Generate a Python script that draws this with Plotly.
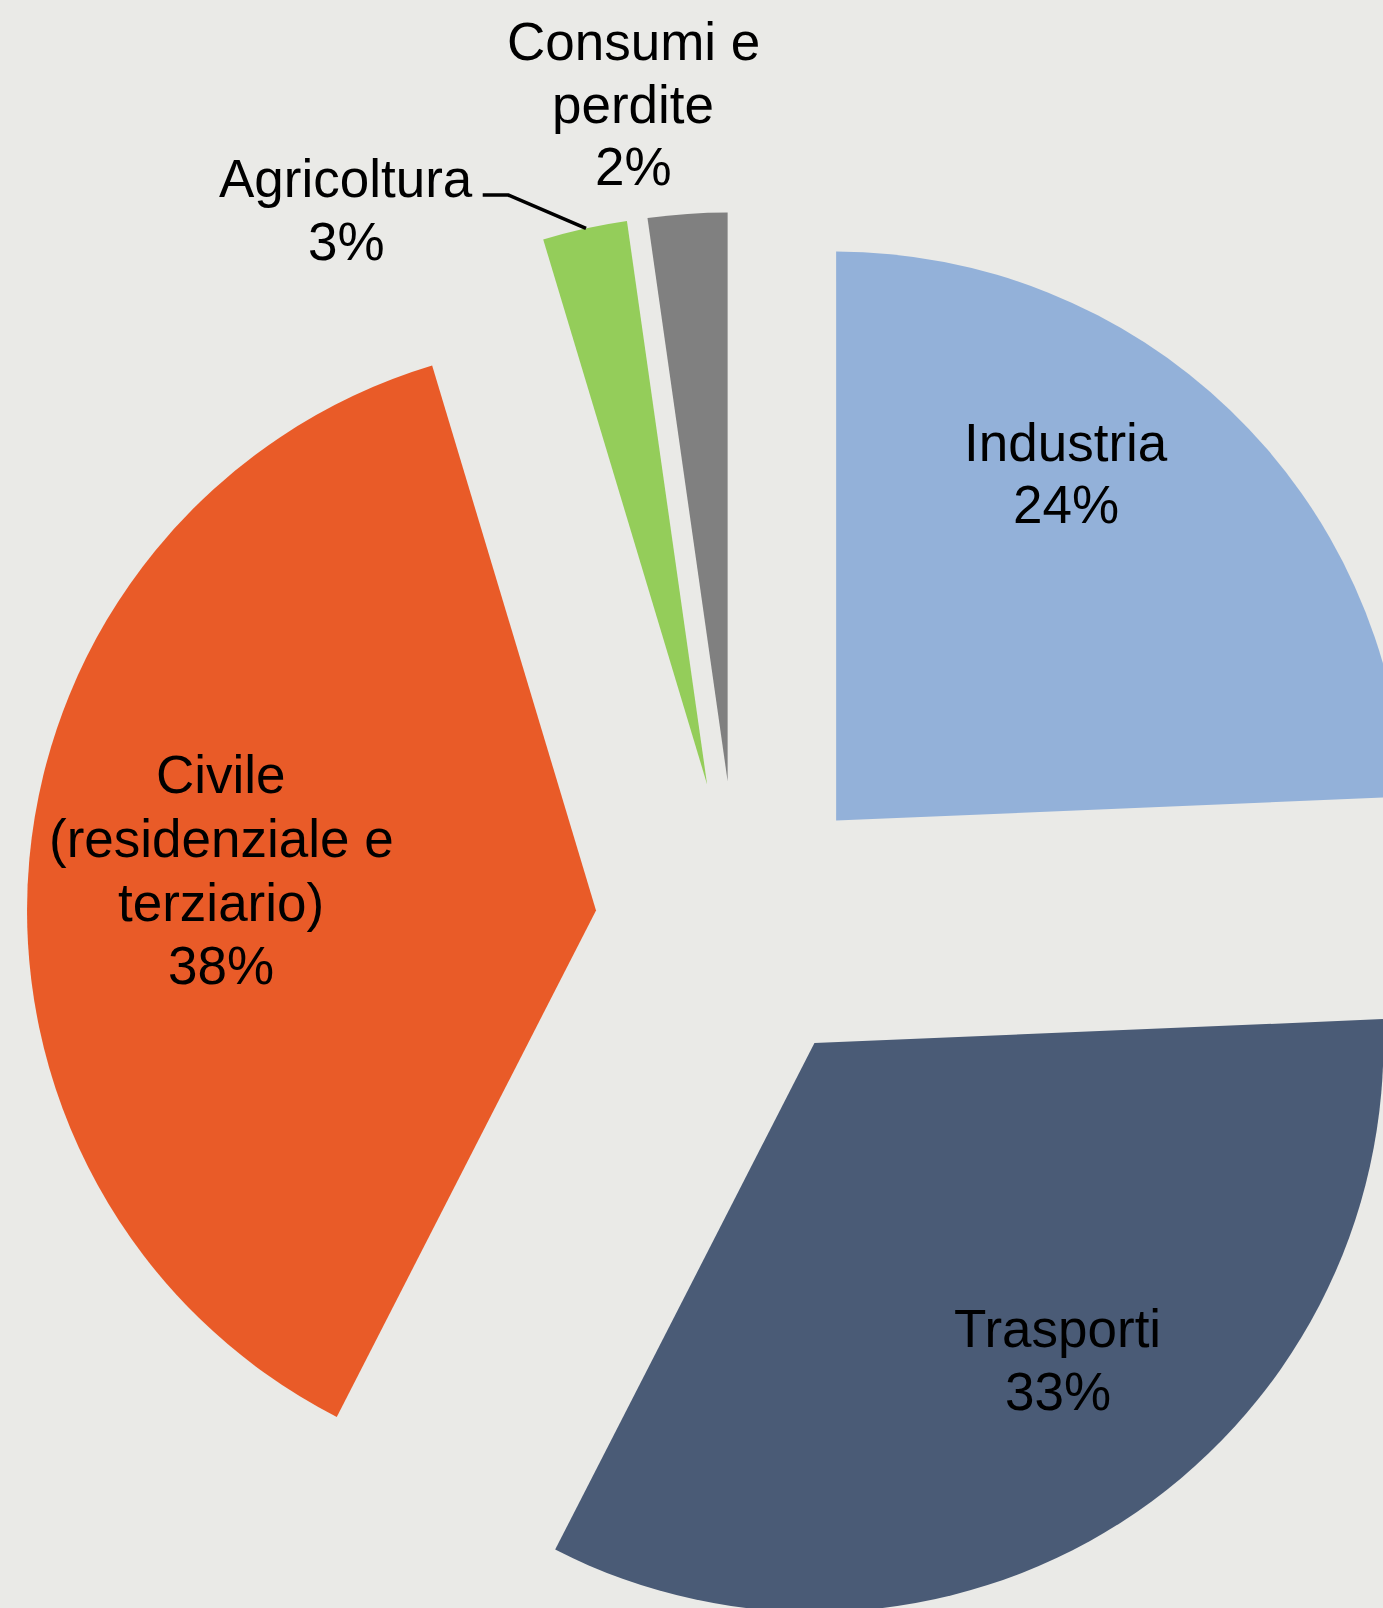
import plotly.graph_objects as go

# ---- data ----
categories = ["Industria", "Trasporti", "Civile (residenziale e terziario)", "Agricoltura", "Consumi e perdite"]
display_names = ["Industria", "Trasporti", "Civile<br>(residenziale e<br>terziario)", "Agricoltura", "Consumi e<br>perdite"]
values = [24.33, 33.2, 37.82, 2.4, 2.25]
pct_labels = ["24%", "33%", "38%", "3%", "2%"]
colors = ["#93B1D9", "#4A5B76", "#E95B28", "#94CD5A", "#808080"]

# ---- layout constants (pixels) ----
W, H = 1460, 1660
CX, CY, R, PULL = 737.7, 923.3, 569.0, 0.25
FONT = "Liberation Sans, Arial, sans-serif"
FS = 53
# label blocks: centre x, first baseline y, line spacing
label_pos = [
    (1065.5, 460.7, 61.8),
    (1057.7, 1347.3, 62.7),
    (221.3, 793.3, 63.6),
    (346.0, 197.3, 62.7),
    (633.0, 60.0, 62.5),
]
BASE_TO_MID = 0.3465 * FS


def px(x):
    return x / W


def py(y):
    return 1 - y / H


half = R * (1 + PULL)

fig = go.Figure(go.Pie(
    labels=categories,
    values=values,
    textinfo="none",
    marker=dict(colors=colors, line=dict(width=0)),
    pull=[PULL] * len(values),
    sort=False,
    direction="clockwise",
    rotation=0,
    hoverinfo="none",
    showlegend=False,
    domain=dict(x=[px(CX - half), px(CX + half)], y=[py(CY + half), py(CY - half)]),
))

annotations = []
for name, pct, (lx, ly, dy) in zip(display_names, pct_labels, label_pos):
    lines = name.split("<br>") + [pct]
    for i, t in enumerate(lines):
        annotations.append(dict(
            text=t, x=px(lx), y=py(ly + i * dy - BASE_TO_MID),
            xref="paper", yref="paper", showarrow=False,
            xanchor="center", yanchor="middle",
            font=dict(family=FONT, size=FS, color="black"),
        ))

leader = [(482.7, 195), (508.3, 195), (586, 228.3)]
path = "M " + " L ".join(f"{px(x)},{py(y)}" for x, y in leader)

fig.update_layout(
    width=W, height=H,
    margin=dict(l=0, r=0, t=0, b=0, pad=0),
    paper_bgcolor="#EAEAE7",
    plot_bgcolor="#EAEAE7",
    annotations=annotations,
    shapes=[dict(type="path", path=path, xref="paper", yref="paper",
                 line=dict(color="black", width=3.6))],
)

fig.write_html("out.html", post_script="document.body.style.margin='0';document.body.style.overflow='hidden';")
